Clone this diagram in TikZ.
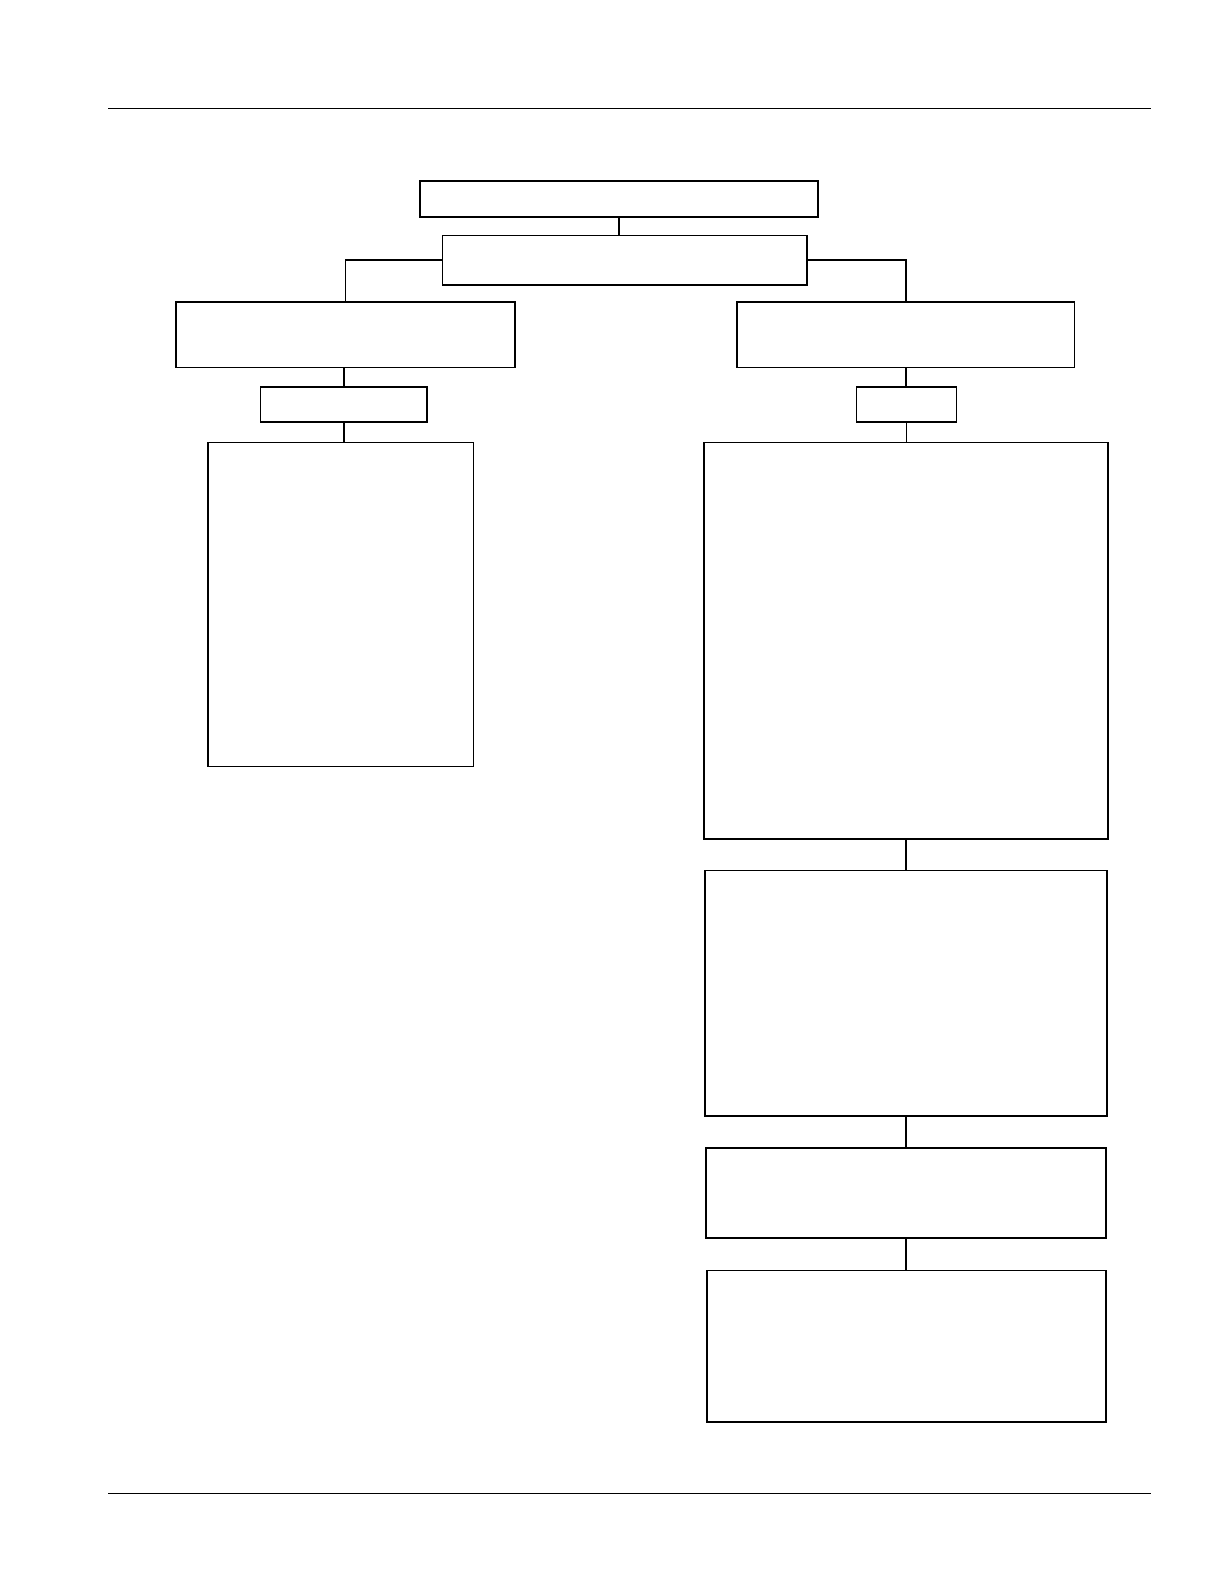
\documentclass[tikz,border=0pt]{standalone}
\usepackage{tikz}
\usetikzlibrary{positioning}
\tikzset{blockbox/.style 2 args = {minimum width=#1*0.017813cm, minimum height=#2*0.017813cm}}
\tikzset{Chart/.style = {
		x=0.017813cm, y=-0.017813cm,
		every node/.style = {rectangle, draw, line width=0.8pt, inner sep=0pt},
		link/.style = {line width=0.8pt},
		pagerule/.style = {line width=0.5pt},
	}% end of Chart style
}
\begin{document}
\begin{tikzpicture}[Chart]
  \useasboundingbox (0,0) rectangle (1212.06,1568.54);
  \draw[pagerule] (107,107) -- (1140,107);
  \draw[pagerule] (107,1479) -- (1140,1479);

  \node[blockbox={394}{36}] (Top) at (613,197) {};
  \node[blockbox={361}{49}] (Mid) at (618.5,257.5) {};
  \draw[link] (Top.south) -- (Top.south |- Mid.north);

  \node[blockbox={336}{65}] (L1) at (342,331.5) {};
  \node[blockbox={165}{35}] (L2) at (340.5,400.5) {};
  \node[blockbox={263}{321}] (L3) at (337.5,598.5) {};
  \draw[link] (Mid.west) -| (L1.north);
  \draw[link] (L2.north |- L1.south) -- (L2.north);
  \draw[link] (L2.south) -- (L2.south |- L3.north);

  \node[blockbox={334}{65}] (R1) at (897,331.5) {};
  \node[blockbox={99}{35}] (R2) at (897.5,400.5) {};
  \node[blockbox={400}{393}] (R3) at (897,634.5) {};
  \node[blockbox={398}{243}] (R4) at (897,983.5) {};
  \node[blockbox={396}{89}] (R5) at (897,1181.5) {};
  \node[blockbox={395}{150}] (R6) at (897.5,1333) {};
  \draw[link] (Mid.east) -| (R1.north);
  \draw[link] (R1.south) -- (R1.south |- R2.north);
  \draw[link] (R2.south) -- (R2.south |- R3.north);
  \draw[link] (R3.south) -- (R3.south |- R4.north);
  \draw[link] (R4.south) -- (R4.south |- R5.north);
  \draw[link] (R5.south) -- (R5.south |- R6.north);
\end{tikzpicture}
\end{document}
